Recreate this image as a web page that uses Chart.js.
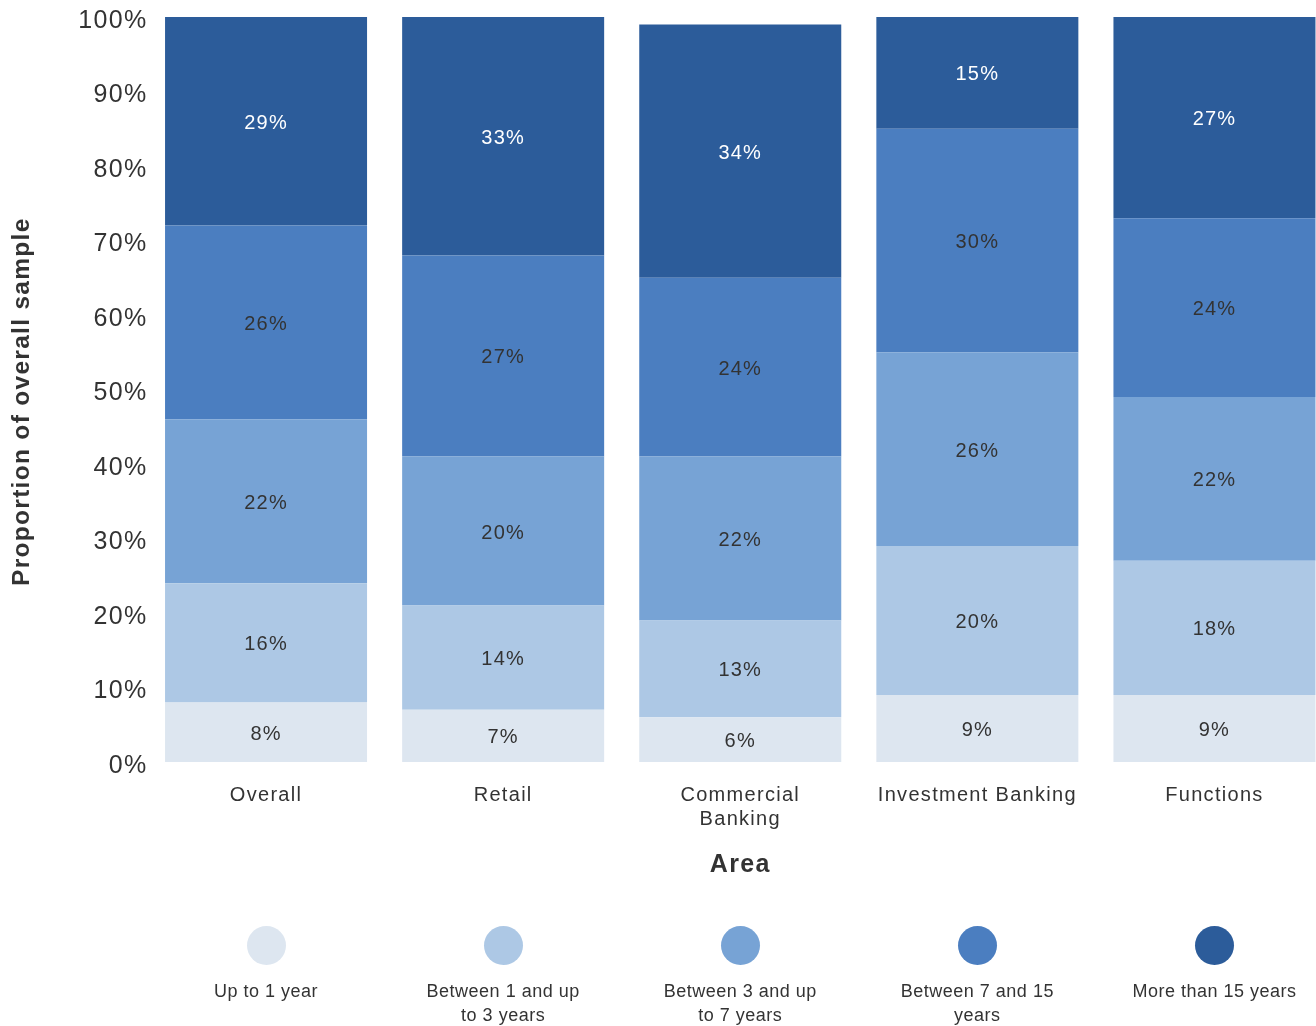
<!DOCTYPE html>
<html>
<head>
<meta charset="utf-8">
<script src="https://cdn.jsdelivr.net/npm/chart.js@4"></script>
<style>
  html, body { margin: 0; padding: 0; background: #ffffff; overflow: hidden; }
  body { width: 1316px; height: 1026px; position: relative; font-family: "Liberation Sans", Arial, sans-serif; }
  #wrap { position: absolute; left: 0; top: 0; width: 1340px; height: 890px; }
  #legend { position: absolute; left: 0; top: 0; width: 1316px; height: 1026px; pointer-events: none; }
  .item { position: absolute; width: 220px; margin-left: -110px; text-align: center; color: #333333; font-size: 18px; line-height: 24px; letter-spacing: 0.5px; }
  .dot { width: 39px; height: 39px; border-radius: 50%; margin: 0 auto 14px auto; }
</style>
</head>
<body>
<div id="wrap"><canvas id="chart" width="1340" height="890"></canvas></div>
<div id="legend"></div>
<script>
// Categories along the x axis
const areas = ['Overall', 'Retail', ['Commercial', 'Banking'], 'Investment Banking', 'Functions'];

// Tenure groups, bottom of each stack first
const tenureGroups = [
  ['Up to 1 year'],
  ['Between 1 and up', 'to 3 years'],
  ['Between 3 and up', 'to 7 years'],
  ['Between 7 and 15', 'years'],
  ['More than 15 years']
];

// Share of each area's sample (%) per tenure group
const upTo1 = [8, 7, 6, 9, 9];
const from1to3 = [16, 14, 13, 20, 18];
const from3to7 = [22, 20, 22, 26, 22];
const from7to15 = [26, 27, 24, 30, 24];
const over15 = [29, 33, 34, 15, 27];

const yTicks = [0, 10, 20, 30, 40, 50, 60, 70, 80, 90, 100];

const seriesValues = [upTo1, from1to3, from3to7, from7to15, over15];
const palette = ['#dde6f0', '#adc8e5', '#77a3d5', '#4b7ec0', '#2c5c9a'];
const labelInk = ['#333333', '#333333', '#333333', '#333333', '#ffffff'];

const FONT = '"Liberation Sans", Arial, sans-serif';

// Slightly open tracking for all canvas text
const tracking = {
  id: 'tracking',
  beforeUpdate(chart) { chart.ctx.letterSpacing = '1.3px'; },
  beforeDraw(chart) { chart.ctx.letterSpacing = '1.3px'; }
};

// Writes the percentage in the middle of every stacked segment
const segmentLabels = {
  id: 'segmentLabels',
  afterDatasetsDraw(chart) {
    const ctx = chart.ctx;
    ctx.save();
    ctx.letterSpacing = '1.2px';
    ctx.font = '20px ' + FONT;
    ctx.textAlign = 'center';
    ctx.textBaseline = 'middle';
    chart.data.datasets.forEach((ds, i) => {
      const meta = chart.getDatasetMeta(i);
      meta.data.forEach((bar, j) => {
        const top = Math.max(bar.y, chart.chartArea.top);
        const yMid = (top + bar.base) / 2;
        ctx.fillStyle = labelInk[i];
        ctx.fillText(ds.data[j] + '%', bar.x, yMid + 2);
      });
    });
    ctx.restore();
  }
};

const chart = new Chart(document.getElementById('chart'), {
  type: 'bar',
  data: {
    labels: areas,
    datasets: seriesValues.map((vals, i) => ({
      label: tenureGroups[i].join(' '),
      data: vals,
      backgroundColor: palette[i],
      borderWidth: 0,
      barPercentage: 0.852,
      categoryPercentage: 1.0
    }))
  },
  options: {
    responsive: false,
    animation: false,
    layout: { padding: { top: 17, left: 0, right: 7, bottom: 0 } },
    plugins: { legend: { display: false }, tooltip: { enabled: false } },
    scales: {
      x: {
        stacked: true,
        grid: { display: false, drawTicks: false },
        border: { display: false },
        ticks: { color: '#333333', font: { family: FONT, size: 20 }, padding: 21, maxRotation: 0, autoSkip: false },
        title: { display: true, text: 'Area', color: '#333333', font: { family: FONT, size: 25, weight: 'bold' }, padding: { top: 0, bottom: 10 } },
        afterFit(scale) { scale.height = 128; }
      },
      y: {
        stacked: true,
        min: 0,
        max: 100,
        grid: { display: false, drawTicks: false },
        border: { display: false },
        afterBuildTicks(scale) { scale.ticks = yTicks.map(v => ({ value: v })); },
        ticks: { color: '#333333', font: { family: FONT, size: 25 }, padding: 0, labelOffset: 4, callback: v => v + '%' },
        title: { display: true, text: 'Proportion of overall sample   ', color: '#333333', font: { family: FONT, size: 24.5, weight: 'bold' }, padding: { top: 8, bottom: 0 } },
        afterFit(scale) { scale.width = 147.5; }
      }
    }
  },
  plugins: [tracking, segmentLabels]
});

// Legend row: one coloured dot per tenure group, centred under each bar
const legend = document.getElementById('legend');
const xs = chart.scales.x;
tenureGroups.forEach((lines, i) => {
  const item = document.createElement('div');
  item.className = 'item';
  item.style.left = xs.getPixelForValue(i) + 'px';
  item.style.top = '926px';
  const dot = document.createElement('div');
  dot.className = 'dot';
  dot.style.background = palette[i];
  item.appendChild(dot);
  lines.forEach(line => {
    const t = document.createElement('div');
    t.textContent = line;
    item.appendChild(t);
  });
  legend.appendChild(item);
});
</script>
</body>
</html>
